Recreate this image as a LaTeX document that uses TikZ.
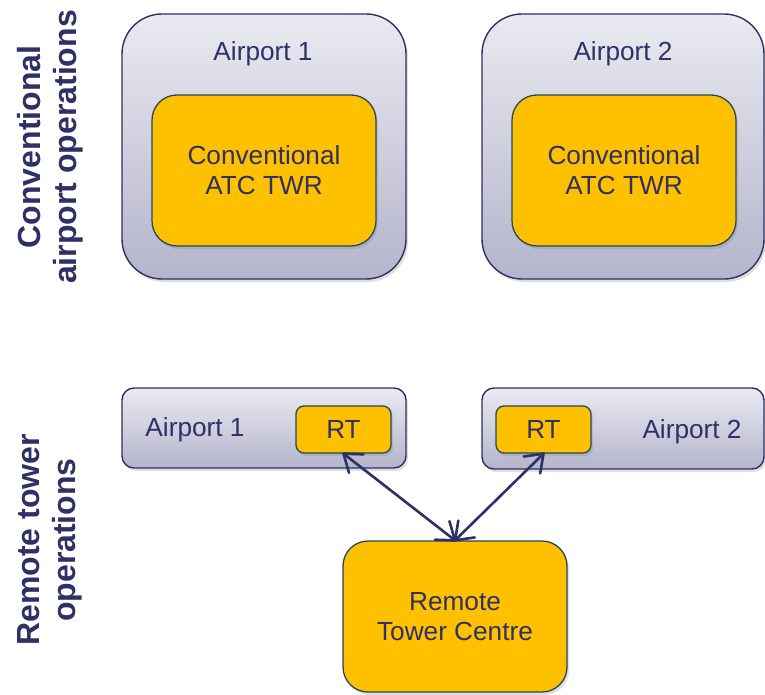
\documentclass[tikz,border=0pt]{standalone}
\usepackage{fontspec}
\setmainfont{Liberation Sans}
\usetikzlibrary{calc,shadows}
\definecolor{navy}{RGB}{46,48,102}
\definecolor{gold}{RGB}{255,192,0}
\definecolor{slate}{RGB}{31,73,90}
\definecolor{boxtop}{RGB}{234,234,241}
\definecolor{boxbot}{RGB}{180,180,204}
\tikzset{
  outerbox/.style={draw=navy, line width=1.4pt, top color=boxtop, bottom color=boxbot,
    drop shadow={opacity=0.25, shadow xshift=2pt, shadow yshift=-3pt}},
  yellowbox/.style={draw=slate, line width=1.3pt, fill=gold, text=navy, align=center,
    font=\fontsize{26.2}{30}\selectfont,
    drop shadow={opacity=0.25, shadow xshift=2pt, shadow yshift=-3pt}},
  lbl/.style={text=navy, font=\fontsize{26.2}{30}\selectfont},
  side/.style={text=navy, rotate=90, align=center, font=\fontsize{32}{36}\selectfont\bfseries},
  linkline/.style={draw=navy, line width=2.6pt, line cap=round, line join=round}
}
\begin{document}
\begin{tikzpicture}[x=1pt,y=1pt]
\useasboundingbox[fill=white] (0,0) rectangle (765,-695);
% Conventional
\node[outerbox, rounded corners=40pt, minimum width=284pt, minimum height=265pt] (ap1) at (264,-146.5) {};
\node[lbl] (ap1l) at (263,-54) {Airport 1};
\node[yellowbox, rounded corners=25pt, minimum width=224pt, minimum height=151pt] (twr1) at (264,-170.5) {Conventional\\ATC TWR};
\node[outerbox, rounded corners=40pt, minimum width=282pt, minimum height=265pt] (ap2) at (623,-146.5) {};
\node[lbl] (ap2l) at (623,-54) {Airport 2};
\node[yellowbox, rounded corners=25pt, minimum width=224pt, minimum height=151pt] (twr2) at (624,-170.5) {Conventional\\ATC TWR};
% Remote
\node[outerbox, rounded corners=12pt, minimum width=284pt, minimum height=80pt] (rap1) at (264,-428) {};
\node[lbl] (rap1l) at (195,-430) {Airport 1};
\node[yellowbox, rounded corners=8pt, minimum width=95pt, minimum height=47pt] (rt1) at (343.5,-429.5) {RT};
\node[outerbox, rounded corners=12pt, minimum width=282pt, minimum height=81pt] (rap2) at (623,-428.5) {};
\node[lbl] (rap2l) at (692,-432) {Airport 2};
\node[yellowbox, rounded corners=8pt, minimum width=95pt, minimum height=47pt] (rt2) at (543.5,-429.5) {RT};
\node[yellowbox, rounded corners=25pt, minimum width=224pt, minimum height=151pt] (rtc) at (455,-616.5) {Remote\\Tower Centre};
% connectors with open barbs at both ends
\foreach \a in {rt1, rt2} {
  \draw[linkline] (\a.south) -- (rtc.north);
  \draw[linkline] ($(\a.south)!20pt!36:(rtc.north)$) -- (\a.south) -- ($(\a.south)!20pt!-36:(rtc.north)$);
  \draw[linkline] ($(rtc.north)!20pt!36:(\a.south)$) -- (rtc.north) -- ($(rtc.north)!20pt!-36:(\a.south)$);
}
% side labels
\node[side] (s1) at (50,-147) {Conventional\\airport operations};
\node[side] (s2) at (50,-540) {Remote tower\\operations};
\end{tikzpicture}
\end{document}
